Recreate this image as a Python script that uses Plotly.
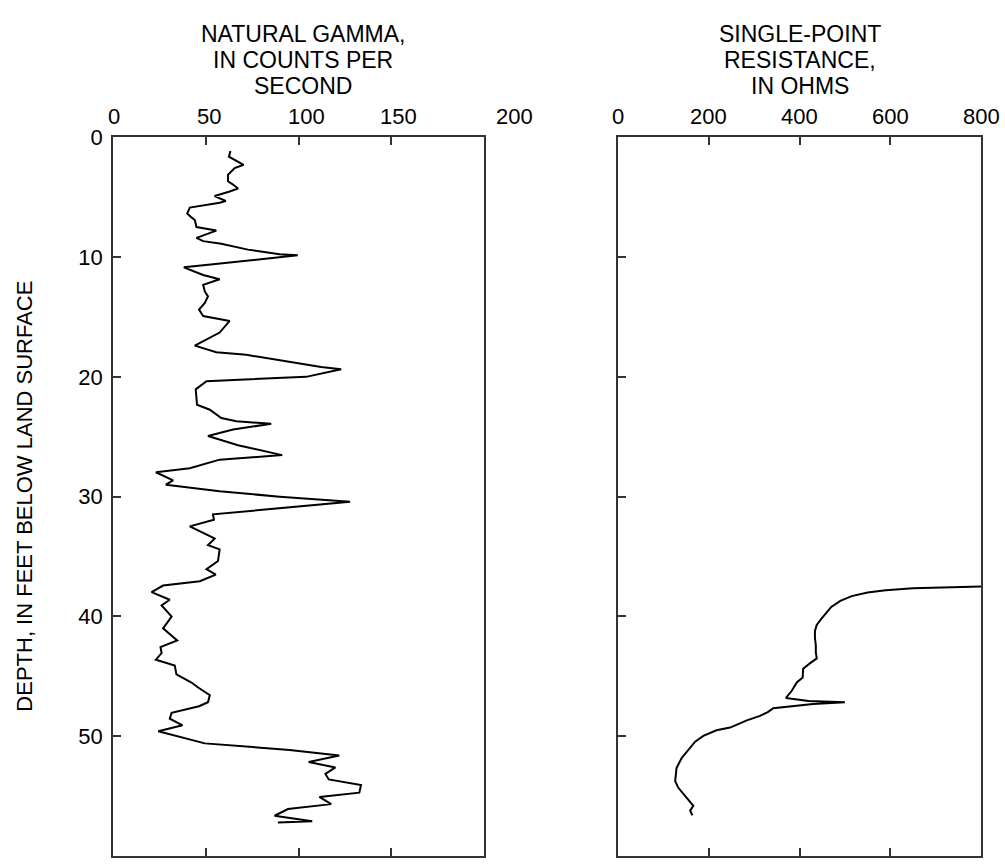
import plotly.graph_objects as go

# ---- data ----
gamma_depth = [1.15, 1.62, 2.3, 2.58, 3.13, 3.68, 3.95, 4.28, 4.55, 4.91, 5.32, 5.46, 5.87, 6.36, 6.69,
               6.91, 7.5, 7.79, 8.4, 8.67, 8.89, 9.38, 9.77, 9.85, 10.6, 10.86, 11.5, 11.85, 12.32, 12.87,
               13.28, 13.83, 14.38, 14.92, 15.33, 16.3, 17.39, 17.94, 18.16, 18.77, 19.18, 19.37, 20.0,
               20.36, 21.04, 22.33, 22.74, 23.43, 23.7, 23.92, 24.39, 24.94, 25.7, 26.53, 26.91, 27.63,
               27.96, 28.64, 29.0, 29.55, 30.0, 30.43, 30.97, 31.47, 31.93, 32.48, 33.3, 33.5, 34.05,
               34.4, 35.37, 36.05, 36.5, 37.06, 37.42, 37.97, 38.6, 39.07, 40.0, 40.99, 42.0, 42.55,
               43.05, 43.6, 44.09, 44.83, 45.51, 45.93, 46.56, 47.16, 47.49, 48.04, 48.53, 49.08, 49.57,
               50.23, 50.59, 51.14, 51.6, 52.15, 52.6, 53.14, 53.6, 54.07, 54.7, 55.06, 55.66, 56.07,
               56.63, 57.09, 57.2]
gamma_cps = [63.3, 62.5, 70.4, 65.6, 62.0, 62.0, 64.7, 67.4, 62.5, 54.8, 60.8, 57.5, 41.4, 40.0, 42.3,
             44.1, 45.0, 55.7, 45.0, 48.6, 58.4, 72.7, 89.8, 99.6, 53.9, 38.2, 48.6, 57.5, 48.6, 49.5,
             51.2, 49.5, 46.4, 48.6, 62.9, 57.5, 44.1, 55.7, 71.9, 95.2, 112.2, 123.0, 104.1,
             50.4, 44.6, 45.3, 52.2, 58.4, 66.5, 85.3, 64.7, 51.2, 67.4, 91.2, 57.5, 41.4,
             23.1, 32.4, 28.5, 57.5, 89.8, 127.8, 89.8, 53.9, 54.4, 41.4, 52.2, 54.8, 51.2,
             57.5, 56.6, 50.4, 55.4, 46.8, 27.0, 20.8, 30.6, 26.2, 31.6, 27.0, 34.6, 25.6,
             26.2, 23.1, 33.3, 34.2, 42.3, 45.9, 52.2, 51.2, 46.4, 31.6, 30.6, 37.5, 24.4,
             41.4, 49.5, 95.2, 122.0, 105.5, 119.9, 114.5, 116.3, 133.7, 132.8, 111.3, 117.6, 94.3,
             87.1, 107.4, 88.9]

res_depth = [37.5, 37.55, 37.65, 37.8, 38.0, 38.3, 38.7, 39.2, 39.7, 40.2, 40.7, 41.2, 41.8, 42.4,
             43.0, 43.5, 43.85, 44.36, 45.1, 45.5, 46.2, 46.8, 47.05, 47.15, 47.3, 47.65, 47.96,
             48.3, 48.67, 49.27, 49.5, 49.96, 50.45, 51.14, 51.83, 52.65, 53.74, 54.3, 55.12,
             55.8, 56.2, 56.6]
res_ohms = [800, 720, 650, 590, 550, 515, 490, 470, 458, 448, 438, 434, 434, 436,
            436, 438, 425, 408, 407, 394, 383, 370, 420, 500, 430, 342, 331,
            313, 284, 247, 217, 188, 170, 155, 140, 129, 126, 133, 151,
            166, 159, 164]

gamma_ticks = [0, 50, 100, 150, 200]
gamma_ticktext = ["0", "50", "100", "150", "200"]
res_ticks = [0, 200, 400, 600, 800]
res_ticktext = ["0", "200", "400", "600", "800"]
depth_ticks = [0, 10, 20, 30, 40, 50, 60]

gamma_title = ["NATURAL GAMMA,", "IN COUNTS PER", "SECOND"]
res_title = ["SINGLE-POINT", "RESISTANCE,", "IN OHMS"]
depth_title = "DEPTH, IN FEET BELOW LAND SURFACE"

# ---- figure ----
W, H = 1005, 865
FONT = "Liberation Sans, Arial, sans-serif"
fig = go.Figure()
fig.add_trace(go.Scatter(x=gamma_cps, y=gamma_depth, mode="lines", xaxis="x", yaxis="y",
                         line=dict(color="black", width=2), showlegend=False, hoverinfo="skip"))
fig.add_trace(go.Scatter(x=res_ohms, y=res_depth, mode="lines", xaxis="x2", yaxis="y2",
                         line=dict(color="black", width=2), showlegend=False, hoverinfo="skip"))

x1_dom = [113 / W, 484 / W]
x2_dom = [618 / W, 981 / W]
y_dom = [1 - 856 / H, 1 - 127 / H]

axis_common = dict(showgrid=False, zeroline=False, showline=True, linecolor="#333", linewidth=1.5,
                   ticks="inside", ticklen=8, tickwidth=1.5, tickcolor="#333",
                   tickfont=dict(family=FONT, size=22, color="black"))

fig.update_layout(
    width=W, height=H, margin=dict(l=0, r=0, t=0, b=0),
    paper_bgcolor="white", plot_bgcolor="white",
    xaxis=dict(domain=x1_dom, range=[0, 200], side="top", tickvals=gamma_ticks, mirror="ticks",
               showticklabels=False, anchor="y", **axis_common),
    yaxis=dict(domain=y_dom, range=[60, 0], tickvals=depth_ticks, mirror=True, anchor="x",
               ticklabelstandoff=4, **axis_common),
    xaxis2=dict(domain=x2_dom, range=[0, 800], side="top", tickvals=res_ticks, mirror="ticks",
                showticklabels=False, anchor="y2", **axis_common),
    yaxis2=dict(domain=y_dom, range=[60, 0], tickvals=depth_ticks, mirror=True, anchor="x2",
                showticklabels=False, **axis_common),
)

annotations = []
# top tick labels (the original's gamma labels drift slightly to the right)
gamma_label_shift = [1, 3, 8, 7, 30]
for v, t, s in zip(gamma_ticks, gamma_ticktext, gamma_label_shift):
    annotations.append(dict(text=t, x=v, xref="x", y=y_dom[1], yref="paper", xanchor="center",
                            yanchor="bottom", xshift=s, yshift=6, showarrow=False,
                            font=dict(family=FONT, size=22, color="black")))
for v, t in zip(res_ticks, res_ticktext):
    annotations.append(dict(text=t, x=v, xref="x2", y=y_dom[1], yref="paper", xanchor="center",
                            yanchor="bottom", yshift=6, showarrow=False,
                            font=dict(family=FONT, size=22, color="black")))

title_baselines = [30, 56.5, 83]
TS = 23
for i, t in enumerate(gamma_title):
    annotations.append(dict(text=t, x=303 / W, xref="paper", y=1 - (title_baselines[i] - 0.35 * TS) / H,
                            yref="paper", xanchor="center", yanchor="middle", showarrow=False,
                            borderpad=0, borderwidth=0,
                            font=dict(family=FONT, size=TS, color="black")))
for i, t in enumerate(res_title):
    annotations.append(dict(text=t, x=800 / W, xref="paper", y=1 - (title_baselines[i] - 0.35 * TS) / H,
                            yref="paper", xanchor="center", yanchor="middle", showarrow=False,
                            borderpad=0, borderwidth=0,
                            font=dict(family=FONT, size=TS, color="black")))
annotations.append(dict(text=depth_title, x=25 / W, xref="paper", y=sum(y_dom) / 2, yref="paper",
                        xanchor="center", yanchor="middle", textangle=-90, showarrow=False,
                        font=dict(family=FONT, size=22, color="black")))
fig.update_layout(annotations=annotations)

fig.write_html("out.html")
